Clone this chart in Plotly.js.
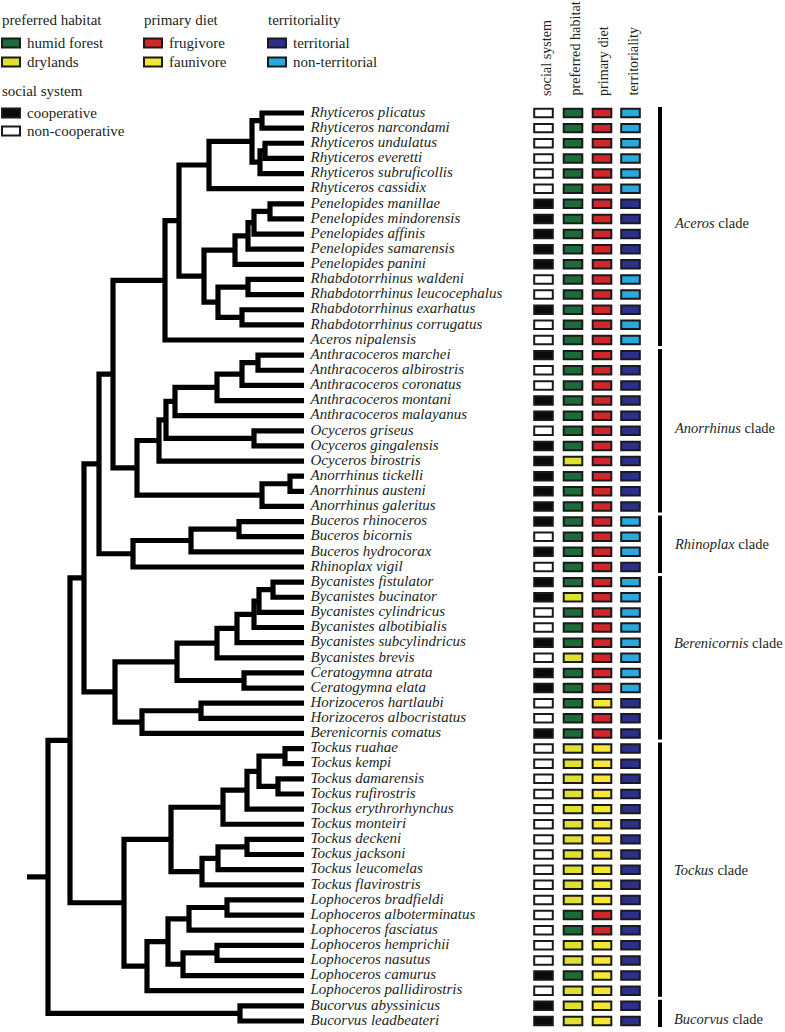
<!DOCTYPE html>
<html><head><meta charset="utf-8">
<script src="https://cdn.plot.ly/plotly-3.0.1.min.js"></script>
<style>html,body{margin:0;padding:0;background:#fff}#chart{width:785px;height:1032px}</style>
</head><body><div id="chart"></div>
<script>
// ---------------- DATA ----------------
const species = [
 'Rhyticeros plicatus','Rhyticeros narcondami','Rhyticeros undulatus','Rhyticeros everetti','Rhyticeros subruficollis','Rhyticeros cassidix',
 'Penelopides manillae','Penelopides mindorensis','Penelopides affinis','Penelopides samarensis','Penelopides panini',
 'Rhabdotorrhinus waldeni','Rhabdotorrhinus leucocephalus','Rhabdotorrhinus exarhatus','Rhabdotorrhinus corrugatus','Aceros nipalensis',
 'Anthracoceros marchei','Anthracoceros albirostris','Anthracoceros coronatus','Anthracoceros montani','Anthracoceros malayanus',
 'Ocyceros griseus','Ocyceros gingalensis','Ocyceros birostris','Anorrhinus tickelli','Anorrhinus austeni','Anorrhinus galeritus',
 'Buceros rhinoceros','Buceros bicornis','Buceros hydrocorax','Rhinoplax vigil',
 'Bycanistes fistulator','Bycanistes bucinator','Bycanistes cylindricus','Bycanistes albotibialis','Bycanistes subcylindricus','Bycanistes brevis',
 'Ceratogymna atrata','Ceratogymna elata','Horizoceros hartlaubi','Horizoceros albocristatus','Berenicornis comatus',
 'Tockus ruahae','Tockus kempi','Tockus damarensis','Tockus rufirostris','Tockus erythrorhynchus','Tockus monteiri',
 'Tockus deckeni','Tockus jacksoni','Tockus leucomelas','Tockus flavirostris',
 'Lophoceros bradfieldi','Lophoceros alboterminatus','Lophoceros fasciatus','Lophoceros hemprichii','Lophoceros nasutus','Lophoceros camurus','Lophoceros pallidirostris',
 'Bucorvus abyssinicus','Bucorvus leadbeateri'
];
// C = cooperative, N = non-cooperative
const socialSystem = [
 'N','N','N','N','N','N','C','C','C','C','C','N','N','C','N','N',
 'C','N','N','C','C','N','C','C','C','C','C',
 'C','N','C','N',
 'C','C','N','N','C','N','C','C','N','N','C',
 'N','N','N','N','N','N','N','N','N','N','N','N','N','N','N','C','N',
 'C','C'
];
// H = humid forest, D = drylands
const habitat = [
 'H','H','H','H','H','H','H','H','H','H','H','H','H','H','H','H',
 'H','H','H','H','H','H','H','D','H','H','H',
 'H','H','H','H',
 'H','D','H','H','H','D','H','H','H','H','H',
 'D','D','D','D','D','D','D','D','D','D','D','H','H','D','D','H','D',
 'D','D'
];
// F = frugivore, A = faunivore
const diet = [
 'F','F','F','F','F','F','F','F','F','F','F','F','F','F','F','F',
 'F','F','F','F','F','F','F','F','F','F','F',
 'F','F','F','F',
 'F','F','F','F','F','F','F','F','A','F','F',
 'A','A','A','A','A','A','A','A','A','A','A','F','F','A','A','A','A',
 'A','A'
];
// T = territorial, N = non-territorial
const territoriality = [
 'N','N','N','N','N','N','T','T','T','T','T','N','N','T','N','N',
 'T','T','T','T','T','T','T','T','T','T','T',
 'N','N','N','T',
 'N','N','N','N','N','N','N','N','T','T','T',
 'T','T','T','T','T','T','T','T','T','T','T','T','T','T','T','T','T',
 'T','T'
];
const cladeNames = ['Aceros','Anorrhinus','Rhinoplax','Berenicornis','Tockus','Bucorvus'];
const cladeFirst = [0, 16, 27, 31, 42, 59];
const cladeLast  = [15, 26, 30, 41, 58, 60];
const cladeLabelRow = [7.3, 20.8, 28.5, 35, 50, 59.9];

// Tree: [node depth (horizontal position), child, child]; leaves are species indices
const aceros = [165,
  [179,
    [209, [252, [262, 0, 1], [260, [265, 2, 3], 4]], 5],
    [204, [235, [248, [254, [270, 6, 7], 8], 9], 10], [218, [248, 11, 12], [242, 13, 14]]]
  ], 15];
const anorrhinus = [137,
  [159, [166, [175, [217, [242, [258, 16, 17], 18], 19], 20], [254, 21, 22]], 23],
  [262, [290, 24, 25], 26]];
const rhinoplax = [133, [191, [239, 27, 28], 29], 30];
const berenicornis = [115,
  [177, [217, [237, [254, [259, [273, 31, 32], 33], 34], 35], 36], [244, 37, 38]],
  [142, [201, 39, 40], 41]];
const tockus = [124,
  [171, [223, [247, [259, [285, 42, 43], [278, 44, 45]], 46], 47], [202, [218, [247, 48, 49], 50], 51]],
  [147, [168, [189, [227, 52, 53], 54], [183, [217, 55, 56], 57]], 58]];
const bucorvus = [240, 59, 60];
const tree = [48, [70, [84, [99, [113, aceros, anorrhinus], rhinoplax], berenicornis], tockus], bucorvus];
const tipDepth = 304;
const rootStubDepth = 27;

// ---------------- STYLE ----------------
const COL = {
  C:'#0a0a0a', N:'#ffffff',
  H:'#1d6a3a', D:'#e0e033',
  F:'#d2262d', A:'#f6e635',
  T:'#2c2f8c', NT:'#29a9e0'
};
const serif = 'Liberation Serif, Times New Roman, serif';
const txtColor = '#231f20';
const W = 785, H = 1032, ROW0 = 113, ROWH = 15.133;
const Y = py => (py - ROW0) / ROWH;   // pixel -> row units

// ---------------- TREE TRACE ----------------
const lx = [], ly = [];
function walk(n) {
  if (typeof n === 'number') return {x: tipDepth, y: n};
  const a = walk(n[1]), b = walk(n[2]);
  lx.push(a.x, n[0], n[0], b.x, null);
  ly.push(a.y, a.y, b.y, b.y, null);
  return {x: n[0], y: (a.y + b.y) / 2};
}
const root = walk(tree);
lx.push(rootStubDepth, root.x, null); ly.push(root.y, root.y, null);

const traces = [];
traces.push({type:'scatter', mode:'lines', x:lx, y:ly, line:{color:'#000', width:5.2}, hoverinfo:'skip', cliponaxis:false});

// species labels
traces.push({type:'scatter', mode:'text', x:species.map(() => 310.5), y:species.map((s, i) => i),
  text:species, textposition:'middle right',
  textfont:{family:serif, size:15, color:txtColor, style:'italic'}, hoverinfo:'text', cliponaxis:false});

// clade bars
const bx = [], by = [];
cladeNames.forEach((c, k) => { bx.push(660, 660, null); by.push(cladeFirst[k] - 0.4, cladeLast[k] + 0.4, null); });
traces.push({type:'scatter', mode:'lines', x:bx, y:by, line:{color:'#000', width:4}, hoverinfo:'skip'});

// ---------------- SHAPES (trait boxes + legend swatches) ----------------
const shapes = [];
function box(cx, cy, fill, hw, hh) {
  shapes.push({type:'rect', xref:'x', yref:'y', x0:cx - hw, x1:cx + hw, y0:cy - hh, y1:cy + hh,
    fillcolor:fill, line:{color:'#1a1a1a', width:2}});
}
const colX = [543.5, 573, 602, 630.5];
species.forEach((s, i) => {
  box(colX[0], i, COL[socialSystem[i]], 9.3, 0.28);
  box(colX[1], i, COL[habitat[i]], 9.3, 0.28);
  box(colX[2], i, COL[diet[i]], 9.3, 0.28);
  box(colX[3], i, territoriality[i] === 'T' ? COL.T : COL.NT, 9.3, 0.28);
});

// ---------------- ANNOTATIONS ----------------
const annotations = [];
function ann(text, x, py, extra) {
  annotations.push(Object.assign({text, x, y:Y(py), xref:'x', yref:'y', showarrow:false,
    xanchor:'left', yanchor:'middle', borderpad:0,
    font:{family:serif, size:15, color:txtColor}}, extra || {}));
}
// legend
const legendGroups = [
  {title:'preferred habitat', x:0.5, items:[['humid forest', COL.H], ['drylands', COL.D]]},
  {title:'primary diet', x:143, items:[['frugivore', COL.F], ['faunivore', COL.A]]},
  {title:'territoriality', x:267, items:[['territorial', COL.T], ['non-territorial', COL.NT]]}
];
legendGroups.forEach(g => {
  ann(g.title, g.x, 20);
  g.items.forEach((it, j) => {
    const py = 43 + j * 19;
    box(Math.max(g.x, 1) + 10, Y(py), it[1], 9, 0.29);
    ann(it[0], Math.max(g.x, 1) + 25, py);
  });
});
ann('social system', 0.5, 91);
box(11, Y(113), COL.C, 9, 0.29); ann('cooperative', 26, 113);
box(11, Y(131), COL.N, 9, 0.29); ann('non-cooperative', 26, 131);

// column headers
[['social system', 546], ['preferred habitat', 574.5], ['primary diet', 603], ['territoriality', 632]].forEach(h => {
  annotations.push({text:h[0], x:h[1], y:Y(97), xref:'x', yref:'y', showarrow:false, textangle:-90,
    xanchor:'center', yanchor:'bottom', borderpad:0, font:{family:serif, size:14.2, color:txtColor}});
});

// clade labels
cladeNames.forEach((c, k) => ann('<i>' + c + '</i> clade', 673, ROW0 + cladeLabelRow[k] * ROWH, {font:{family:serif, size:14.5, color:txtColor}}));

const layout = {
  width:W, height:H, margin:{l:0, r:0, t:0, b:0},
  paper_bgcolor:'#fff', plot_bgcolor:'#fff', showlegend:false,
  xaxis:{range:[0, W], visible:false, fixedrange:true},
  yaxis:{range:[(H - ROW0) / ROWH, -ROW0 / ROWH], visible:false, fixedrange:true},
  shapes, annotations
};
Plotly.newPlot('chart', traces, layout, {displayModeBar:false, staticPlot:true});
</script>
</body></html>
